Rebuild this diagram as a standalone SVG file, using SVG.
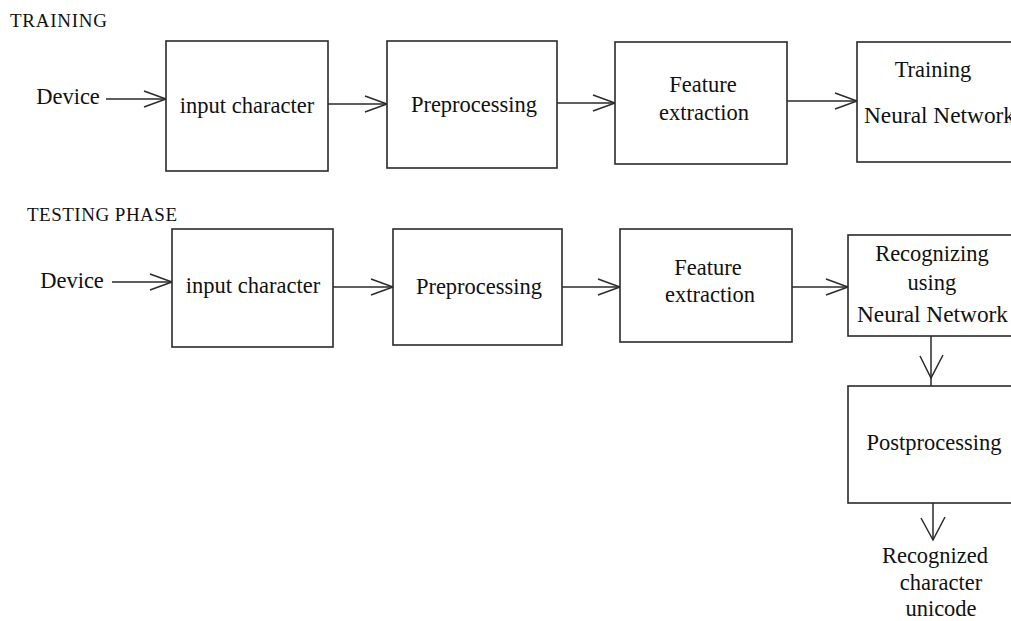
<svg xmlns="http://www.w3.org/2000/svg" width="1011" height="621" viewBox="0 0 1011 621">
<style>
.box{fill:#fff;stroke:#2a2a2a;stroke-width:1.6}
.ln{fill:none;stroke:#2a2a2a;stroke-width:1.5}
text{font-family:"Liberation Serif","Times New Roman",serif;fill:#111;font-size:22.5px}
.m{text-anchor:middle}
.h{font-size:19px}
</style>
<defs>
<marker id="ah" markerUnits="userSpaceOnUse" markerWidth="26" markerHeight="20" refX="22" refY="8" orient="auto" overflow="visible">
<path d="M0,0 L22,8 L0,16" fill="none" stroke="#2a2a2a" stroke-width="1.5"/>
</marker>
</defs>
<rect width="1011" height="621" fill="#fff"/>
<text id="t-training" x="10" y="27" class="h" textLength="97">TRAINING</text>
<text id="t-testing" x="27" y="221" class="h" textLength="150">TESTING PHASE</text>

<g id="connectors">
<line class="ln" x1="106" y1="99" x2="166" y2="99" marker-end="url(#ah)"/>
<line class="ln" x1="328" y1="104" x2="387" y2="104" marker-end="url(#ah)"/>
<line class="ln" x1="557" y1="103" x2="615" y2="103" marker-end="url(#ah)"/>
<line class="ln" x1="787" y1="101" x2="857" y2="101" marker-end="url(#ah)"/>
<line class="ln" x1="112" y1="282" x2="172" y2="282" marker-end="url(#ah)"/>
<line class="ln" x1="333" y1="287" x2="393" y2="287" marker-end="url(#ah)"/>
<line class="ln" x1="562" y1="287" x2="620" y2="287" marker-end="url(#ah)"/>
<line class="ln" x1="792" y1="287" x2="848" y2="287" marker-end="url(#ah)"/>
<line class="ln" x1="931" y1="336" x2="931" y2="386"/>
<path class="ln" d="M920,356 L931,378 L943,355"/>
<line class="ln" x1="933" y1="503" x2="933" y2="540"/>
<path class="ln" d="M921,518 L933,540 L945,517"/>
</g>

<g id="n-device1"><text x="68" y="104" class="m">Device</text></g>
<g id="n-input1"><rect class="box" x="166" y="41" width="162" height="130"/><text x="247" y="113" class="m">input character</text></g>
<g id="n-pre1"><rect class="box" x="387" y="41" width="170" height="127"/><text x="474" y="112" class="m" font-size="25">Preprocessing</text></g>
<g id="n-feat1"><rect class="box" x="615" y="42" width="172" height="122"/><text x="703" y="92" class="m" font-size="23.5">Feature</text><text x="704" y="120" class="m" font-size="23">extraction</text></g>
<g id="n-train1"><rect class="box" x="857" y="42" width="170" height="120"/><text x="933" y="77" class="m" font-size="21">Training</text><text x="864" y="123" font-size="24.5" textLength="151" lengthAdjust="spacingAndGlyphs">Neural Network</text></g>

<g id="n-device2"><text x="72" y="288" class="m">Device</text></g>
<g id="n-input2"><rect class="box" x="172" y="229" width="161" height="118"/><text x="253" y="293" class="m">input character</text></g>
<g id="n-pre2"><rect class="box" x="393" y="229" width="169" height="116"/><text x="479" y="294" class="m" font-size="25">Preprocessing</text></g>
<g id="n-feat2"><rect class="box" x="620" y="229" width="172" height="113"/><text x="708" y="275" class="m" font-size="23.5">Feature</text><text x="710" y="302" class="m" font-size="23">extraction</text></g>
<g id="n-recog"><rect class="box" x="848" y="235" width="180" height="101"/><text x="932" y="261" class="m">Recognizing</text><text x="932" y="290" class="m" font-size="15.5">using</text><text x="857" y="322" font-size="24.5" textLength="151" lengthAdjust="spacingAndGlyphs">Neural Network</text></g>
<g id="n-post"><rect class="box" x="848" y="386" width="180" height="117"/><text x="934" y="450" class="m" font-size="24">Postprocessing</text></g>
<g id="n-out"><text x="935" y="563" class="m">Recognized</text><text x="941" y="590" class="m">character</text><text x="941" y="616" class="m">unicode</text></g>
</svg>
